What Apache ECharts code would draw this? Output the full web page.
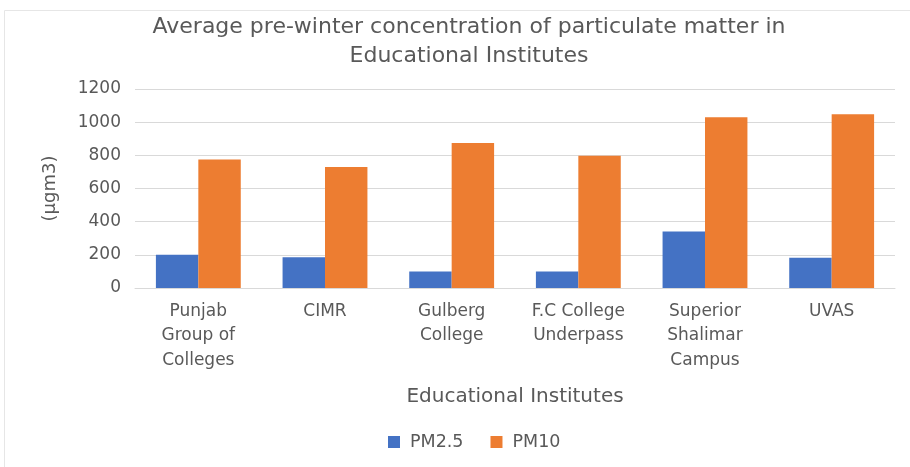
<!DOCTYPE html>
<html>
<head>
<meta charset="utf-8">
<script src="https://cdn.jsdelivr.net/npm/echarts@6/dist/echarts.min.js"></script>
<style>
  html, body { margin: 0; padding: 0; background: #fff; }
  #chart { width: 910px; height: 467px; }
</style>
</head>
<body>
<div id="chart"></div>
<script>
// institutes along the x axis
const institutes = [
  'Punjab\nGroup of\nColleges',
  'CIMR',
  'Gulberg\nCollege',
  'F.C College\nUnderpass',
  'Superior\nShalimar\nCampus',
  'UVAS'
]
const pm25 = [200, 185, 100, 100, 340, 183]
const pm10 = [775, 730, 875, 797, 1030, 1048]
const yTicks = [0, 200, 400, 600, 800, 1000, 1200]

const textColor = '#595959'
const font = 'DejaVu Sans'

const chart = echarts.init(document.getElementById('chart'))
const option = {
  animation: false,
  textStyle: { fontFamily: font },
  title: {
    text: 'Average pre-winter concentration of particulate matter in\nEducational Institutes',
    left: 464,
    textAlign: 'center',
    top: 8,
    textStyle: {
      fontFamily: font,
      fontWeight: 'normal',
      fontSize: 22,
      lineHeight: 29,
      color: textColor
    }
  },
  graphic: [{
    type: 'rect',
    shape: { x: 4.5, y: 10.5, width: 920, height: 470 },
    style: { fill: 'none', stroke: '#e6e6e6', lineWidth: 1 },
    silent: true
  }],
  legend: {
    top: 428,
    left: 383,
    itemWidth: 12,
    itemHeight: 12,
    itemGap: 27,
    icon: 'rect',
    textStyle: { color: textColor, fontSize: 17.5, fontFamily: font, padding: [0, 0, 0, 5] }
  },
  grid: {
    left: 135,
    right: 15,
    top: 89,
    bottom: 179
  },
  xAxis: {
    type: 'category',
    data: institutes,
    name: 'Educational Institutes',
    nameLocation: 'middle',
    nameGap: 99,
    nameTextStyle: { color: textColor, fontSize: 20, fontFamily: font },
    axisLine: { lineStyle: { color: '#d9d9d9' } },
    axisTick: { show: false },
    axisLabel: {
      color: textColor,
      fontSize: 17,
      lineHeight: 24.5,
      margin: 11,
      interval: 0
    }
  },
  yAxis: {
    type: 'value',
    min: yTicks[0],
    max: yTicks[yTicks.length - 1],
    interval: 200,
    name: '(µgm3)',
    nameLocation: 'middle',
    nameGap: 76,
    nameRotate: 90,
    nameTextStyle: { color: textColor, fontSize: 18, fontFamily: font },
    axisLine: { show: false },
    axisTick: { show: false },
    axisLabel: {
      color: textColor,
      fontSize: 17,
      margin: 14,
      formatter: (v) => String(v)
    },
    splitLine: { lineStyle: { color: '#d9d9d9', width: 1 } }
  },
  series: [
    {
      name: 'PM2.5',
      type: 'bar',
      data: pm25,
      barGap: '0%',
      barCategoryGap: '33%',
      itemStyle: { color: '#4472C4' }
    },
    {
      name: 'PM10',
      type: 'bar',
      data: pm10,
      barGap: '0%',
      barCategoryGap: '33%',
      itemStyle: { color: '#ED7D31' }
    }
  ]
}
chart.setOption(option)
</script>
</body>
</html>
